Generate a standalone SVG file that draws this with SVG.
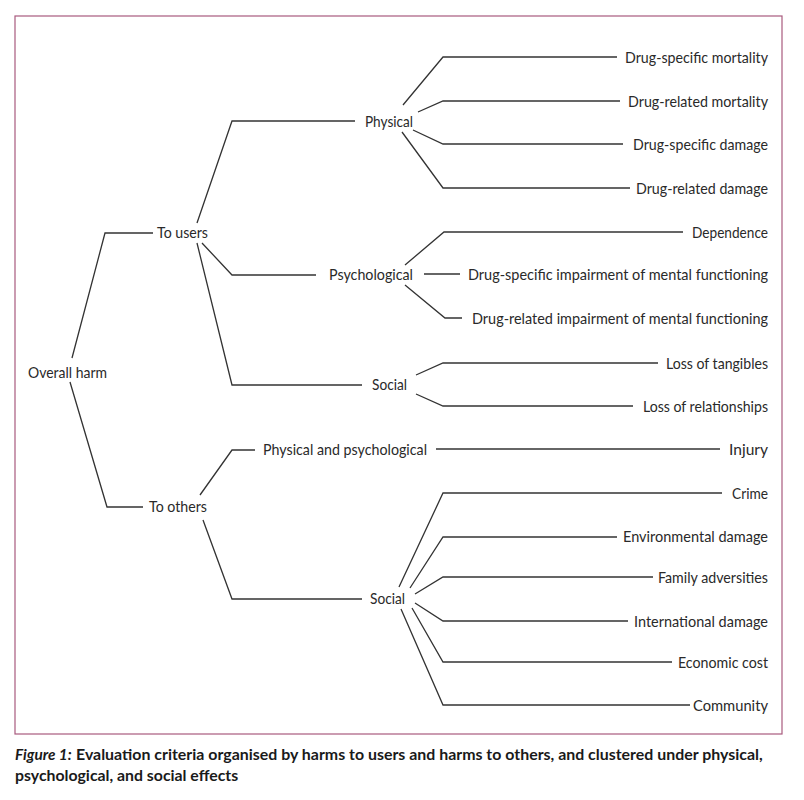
<svg xmlns="http://www.w3.org/2000/svg" width="804" height="800" viewBox="0 0 804 800">
<style>
.t{font-family:Lato,"Open Sans","Liberation Sans",sans-serif;font-size:16px;fill:#2a2a2a}
.r{text-anchor:end}
.c{stroke:#333;stroke-width:1.3;fill:none;stroke-linejoin:miter}
.cap{font-family:Lato,"Open Sans","Liberation Sans",sans-serif;font-size:16px;font-weight:bold;fill:#1a1a1a}
</style>
<rect x="0" y="0" width="804" height="800" fill="#ffffff"/>
<rect x="15" y="16" width="767" height="718" fill="none" stroke="#a85a7e" stroke-width="1.2"/>
<g id="connectors">
<polyline class="c" points="72,358 105,233 153,233"/>
<polyline class="c" points="70,382 107,507 143,507"/>
<polyline class="c" points="197,223 232,121 355,121"/>
<polyline class="c" points="202,243 232,275 316,275"/>
<polyline class="c" points="197,243 232,385 362,385"/>
<polyline class="c" points="200,495 232,450 255,450"/>
<polyline class="c" points="203,520 232,599 362,599"/>
<polyline class="c" points="403,105 443,57 617,57"/>
<polyline class="c" points="418,112 443,101 620,101"/>
<polyline class="c" points="413,130 443,144 623,144"/>
<polyline class="c" points="402,132 443,188 630,188"/>
<polyline class="c" points="405,265 444,232 683,232"/>
<polyline class="c" points="424,274 460,274"/>
<polyline class="c" points="405,285 445,318 462,318"/>
<polyline class="c" points="416,375 443,363 658,363"/>
<polyline class="c" points="416,394 443,406 633,406"/>
<polyline class="c" points="436,449 720,449"/>
<polyline class="c" points="399,587 443,493 722,493"/>
<polyline class="c" points="410,588 443,537 617,537"/>
<polyline class="c" points="415,594 443,577 653,577"/>
<polyline class="c" points="415,603 443,621 628,621"/>
<polyline class="c" points="412,608 443,662 672,662"/>
<polyline class="c" points="401,609 443,705 690,705"/>
</g>
<g id="n-overall"><text class="t" x="28" y="378" textLength="79" lengthAdjust="spacingAndGlyphs">Overall harm</text></g>
<g id="n-users"><text class="t" x="157" y="238" textLength="51" lengthAdjust="spacingAndGlyphs">To users</text></g>
<g id="n-others"><text class="t" x="149" y="512" textLength="58" lengthAdjust="spacingAndGlyphs">To others</text></g>
<g id="n-physical"><text class="t" x="365" y="127" textLength="48" lengthAdjust="spacingAndGlyphs">Physical</text></g>
<g id="n-psych"><text class="t" x="329" y="280" textLength="84" lengthAdjust="spacingAndGlyphs">Psychological</text></g>
<g id="n-social-u"><text class="t" x="372" y="390" textLength="35" lengthAdjust="spacingAndGlyphs">Social</text></g>
<g id="n-physpsych"><text class="t" x="263" y="455" textLength="164" lengthAdjust="spacingAndGlyphs">Physical and psychological</text></g>
<g id="n-social-o"><text class="t" x="370" y="604" textLength="35" lengthAdjust="spacingAndGlyphs">Social</text></g>
<g id="l1"><text class="t r" x="768" y="63" textLength="143" lengthAdjust="spacingAndGlyphs">Drug-specific mortality</text></g>
<g id="l2"><text class="t r" x="768" y="107" textLength="140" lengthAdjust="spacingAndGlyphs">Drug-related mortality</text></g>
<g id="l3"><text class="t r" x="768" y="150" textLength="135" lengthAdjust="spacingAndGlyphs">Drug-specific damage</text></g>
<g id="l4"><text class="t r" x="768" y="194" textLength="132" lengthAdjust="spacingAndGlyphs">Drug-related damage</text></g>
<g id="l5"><text class="t r" x="768" y="238" textLength="76" lengthAdjust="spacingAndGlyphs">Dependence</text></g>
<g id="l6"><text class="t r" x="768" y="280" textLength="300" lengthAdjust="spacingAndGlyphs">Drug-specific impairment of mental functioning</text></g>
<g id="l7"><text class="t r" x="768" y="324" textLength="296" lengthAdjust="spacingAndGlyphs">Drug-related impairment of mental functioning</text></g>
<g id="l8"><text class="t r" x="768" y="369" textLength="102" lengthAdjust="spacingAndGlyphs">Loss of tangibles</text></g>
<g id="l9"><text class="t r" x="768" y="412" textLength="125" lengthAdjust="spacingAndGlyphs">Loss of relationships</text></g>
<g id="l10"><text class="t r" x="768" y="455" textLength="39" lengthAdjust="spacingAndGlyphs">Injury</text></g>
<g id="l11"><text class="t r" x="768" y="499" textLength="36" lengthAdjust="spacingAndGlyphs">Crime</text></g>
<g id="l12"><text class="t r" x="768" y="542" textLength="145" lengthAdjust="spacingAndGlyphs">Environmental damage</text></g>
<g id="l13"><text class="t r" x="768" y="583" textLength="110" lengthAdjust="spacingAndGlyphs">Family adversities</text></g>
<g id="l14"><text class="t r" x="768" y="627" textLength="134" lengthAdjust="spacingAndGlyphs">International damage</text></g>
<g id="l15"><text class="t r" x="768" y="668" textLength="90" lengthAdjust="spacingAndGlyphs">Economic cost</text></g>
<g id="l16"><text class="t r" x="768" y="711" textLength="75" lengthAdjust="spacingAndGlyphs">Community</text></g>
<g id="caption">
<text class="cap" transform="translate(15,760) scale(0.9,1)" x="0" y="0" font-style="italic" textLength="63" lengthAdjust="spacingAndGlyphs">Figure 1:</text>
<text class="cap" transform="translate(76,760) scale(0.9,1)" x="0" y="0" textLength="763" lengthAdjust="spacingAndGlyphs">Evaluation criteria organised by harms to users and harms to others, and clustered under physical,</text>
<text class="cap" transform="translate(15,781) scale(0.9,1)" x="0" y="0" textLength="248" lengthAdjust="spacingAndGlyphs">psychological, and social effects</text>
</g>
</svg>
